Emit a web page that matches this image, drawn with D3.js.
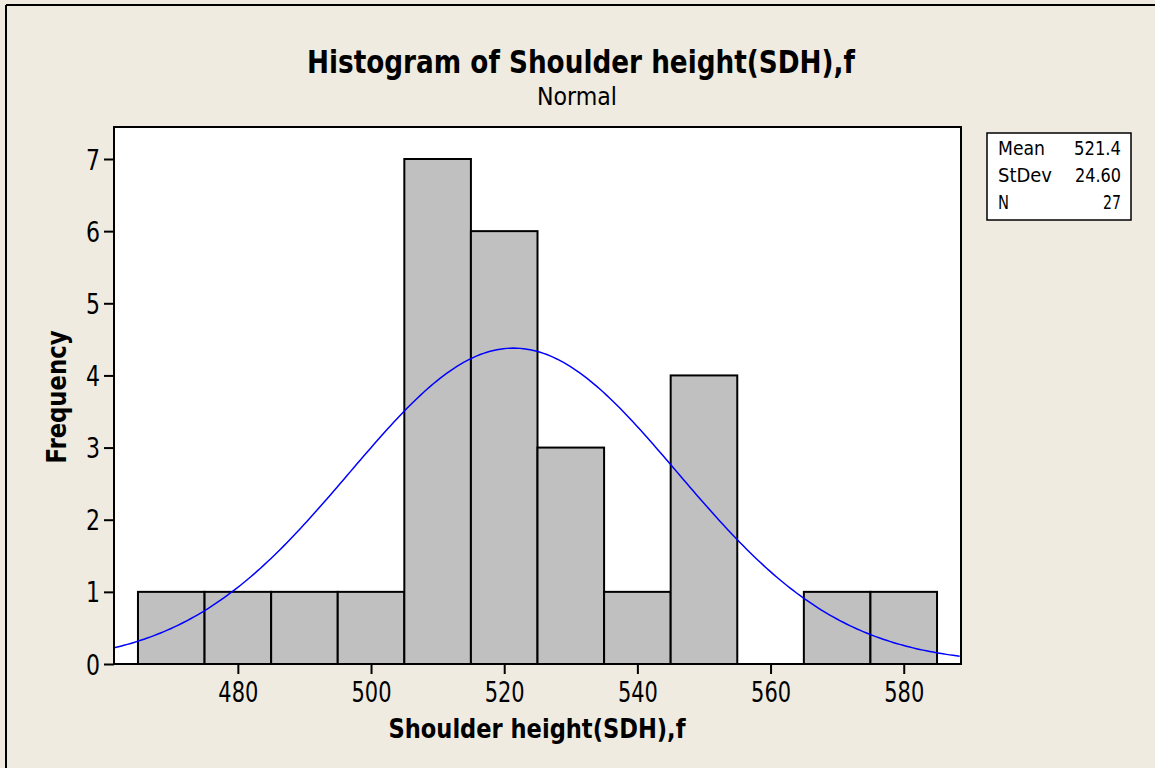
<!DOCTYPE html>
<html><head><meta charset="utf-8">
<script src="https://cdn.jsdelivr.net/npm/d3@7"></script>
<style>
html,body{margin:0;padding:0;background:#EFEBE0;}
svg{display:block;}
text{font-family:"DejaVu Sans Condensed","DejaVu Sans",sans-serif;fill:#000;}
</style></head>
<body>
<script>
const binCenters = [470, 480, 490, 500, 510, 520, 530, 540, 550, 560, 570, 580];
const counts     = [1, 1, 1, 1, 7, 6, 3, 1, 4, 0, 1, 1];
const binWidth = 10;
const xTicks = [480, 500, 520, 540, 560, 580];
const yTicks = [0, 1, 2, 3, 4, 5, 6, 7];
const statLabels = ["Mean", "StDev", "N"];
const statValues = ["521.4", "24.60", "27"];
const mean = 521.4, sd = 24.60, n = 27;

const W = 1155, H = 768;
const FONT = "'DejaVu Sans Condensed','DejaVu Sans',sans-serif";
const svg = d3.select("body").append("svg").attr("width", W).attr("height", H);
svg.append("rect").attr("width", W).attr("height", H).attr("fill", "#EFEBE0");
svg.append("line").attr("x1", 6).attr("x2", W).attr("y1", 5).attr("y2", 5).attr("stroke", "#000").attr("stroke-width", 2);
svg.append("line").attr("x1", 6).attr("x2", 6).attr("y1", 5).attr("y2", H).attr("stroke", "#000").attr("stroke-width", 2);

const L = 114, R = 961, T = 127, B = 664;
const x = d3.scaleLinear().domain([461.4, 588.6]).range([L, R]);
const y = d3.scaleLinear().domain([0, 7]).range([B, 159]);

svg.append("rect").attr("x", L).attr("y", T).attr("width", R - L).attr("height", B - T).attr("fill", "#fff");
svg.append("clipPath").attr("id", "clip").append("rect").attr("x", L).attr("y", T).attr("width", R - L).attr("height", B - T);

svg.append("g").selectAll("rect").data(binCenters).join("rect")
  .attr("x", (d) => x(d - binWidth / 2))
  .attr("width", (d) => x(d + binWidth / 2) - x(d - binWidth / 2))
  .attr("y", (d, i) => y(counts[i]))
  .attr("height", (d, i) => y(0) - y(counts[i]))
  .attr("fill", "#C0C0C0").attr("stroke", "#000").attr("stroke-width", 2);

// fitted normal curve from the stats (Mean, StDev, N)
const xs = d3.range(461.4, 588.7, 0.5);
const pdf = (v) => n * binWidth * Math.exp(-0.5 * ((v - mean) / sd) ** 2) / (sd * Math.sqrt(2 * Math.PI));
svg.append("path").datum(xs).attr("clip-path", "url(#clip)")
  .attr("d", d3.line().x((d) => x(d)).y((d) => y(pdf(d))))
  .attr("fill", "none").attr("stroke", "#0000FF").attr("stroke-width", 1.5);

svg.append("rect").attr("x", L).attr("y", T).attr("width", R - L).attr("height", B - T)
  .attr("fill", "none").attr("stroke", "#000").attr("stroke-width", 2);

// axes
const xa = svg.append("g").attr("transform", `translate(0,${B})`)
  .call(d3.axisBottom(x).tickValues(xTicks).tickSize(10).tickPadding(4).tickFormat(d3.format("d")));
xa.select(".domain").remove();
xa.selectAll("line").attr("stroke-width", 2);
xa.selectAll("text").attr("dy", null).attr("y", 38)
  .style("font-size", "28px").style("font-family", FONT)
  .attr("textLength", 40).attr("lengthAdjust", "spacingAndGlyphs");

const ya = svg.append("g").attr("transform", `translate(${L},0)`)
  .call(d3.axisLeft(y).tickValues(yTicks).tickSize(10).tickPadding(4).tickFormat(d3.format("d")));
ya.select(".domain").remove();
ya.selectAll("line").attr("x2", -10).attr("stroke-width", 2);
ya.selectAll("text").attr("x", -14).attr("dy", "0.36em")
  .style("font-size", "28px").style("font-family", FONT)
  .attr("textLength", 14).attr("lengthAdjust", "spacingAndGlyphs");

function label(txt, opts) {
  const t = svg.append("text").attr("text-anchor", "middle")
    .style("font-size", opts.size + "px").style("font-weight", opts.bold ? "bold" : "normal")
    .attr("textLength", opts.len).attr("lengthAdjust", "spacingAndGlyphs").text(txt);
  if (opts.rotate) t.attr("transform", `translate(${opts.x},${opts.y}) rotate(-90)`);
  else t.attr("x", opts.x).attr("y", opts.y);
  return t;
}
label("Histogram of Shoulder height(SDH),f", {x: 581, y: 73, size: 32, bold: true, len: 548});
label("Normal", {x: 577, y: 105, size: 25, len: 80});
label("Shoulder height(SDH),f", {x: 537, y: 738, size: 26, bold: true, len: 297});
label("Frequency", {x: 66, y: 397, size: 26, bold: true, len: 133, rotate: true});

// stats box
svg.append("rect").attr("x", 987).attr("y", 133).attr("width", 144).attr("height", 87)
  .attr("fill", "#fff").attr("stroke", "#000").attr("stroke-width", 1.5);
const lblLen = [47, 54, 11], valLen = [47, 46, 18];
const rows = svg.append("g").selectAll("g").data(statLabels).join("g")
  .attr("transform", (d, i) => `translate(0,${155 + i * 27})`);
rows.append("text").attr("x", 998).style("font-size", "19px")
  .attr("textLength", (d, i) => lblLen[i]).attr("lengthAdjust", "spacingAndGlyphs").text((d) => d);
rows.append("text").attr("x", 1121).attr("text-anchor", "end").style("font-size", "19px")
  .attr("textLength", (d, i) => valLen[i]).attr("lengthAdjust", "spacingAndGlyphs").text((d, i) => statValues[i]);
</script>
</body></html>
